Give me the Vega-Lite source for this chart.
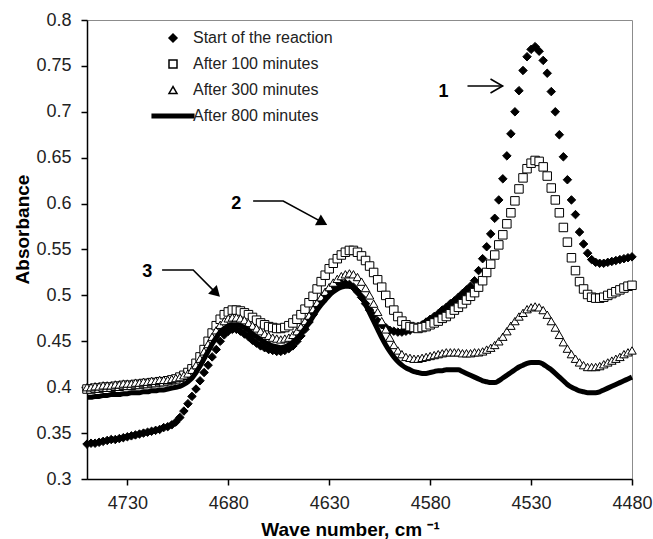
{
"$schema": "https://vega.github.io/schema/vega-lite/v6.json",
"width": 545, "height": 459,
"autosize": {"type": "none"},
"padding": {"left": 87, "top": 20, "right": 21, "bottom": 60},
"background": "white",
"config": {"view": {"stroke": "#8c8c8c", "strokeWidth": 1}, "font": "Liberation Sans"},
"datasets": {
"spec": [
{"x":4750,"a":0.338,"b":0.398,"c":0.400,"d":0.389},
{"x":4748,"a":0.339,"b":0.398,"c":0.400,"d":0.389},
{"x":4746,"a":0.339,"b":0.399,"c":0.401,"d":0.390},
{"x":4744,"a":0.340,"b":0.399,"c":0.401,"d":0.390},
{"x":4742,"a":0.341,"b":0.400,"c":0.402,"d":0.391},
{"x":4740,"a":0.342,"b":0.400,"c":0.402,"d":0.391},
{"x":4738,"a":0.343,"b":0.400,"c":0.402,"d":0.392},
{"x":4736,"a":0.343,"b":0.401,"c":0.403,"d":0.392},
{"x":4734,"a":0.344,"b":0.401,"c":0.403,"d":0.392},
{"x":4732,"a":0.345,"b":0.402,"c":0.404,"d":0.393},
{"x":4730,"a":0.346,"b":0.402,"c":0.404,"d":0.393},
{"x":4728,"a":0.347,"b":0.402,"c":0.404,"d":0.394},
{"x":4726,"a":0.348,"b":0.403,"c":0.405,"d":0.394},
{"x":4724,"a":0.349,"b":0.403,"c":0.405,"d":0.394},
{"x":4722,"a":0.350,"b":0.404,"c":0.406,"d":0.395},
{"x":4720,"a":0.351,"b":0.404,"c":0.406,"d":0.395},
{"x":4718,"a":0.352,"b":0.405,"c":0.407,"d":0.396},
{"x":4716,"a":0.353,"b":0.405,"c":0.407,"d":0.396},
{"x":4714,"a":0.354,"b":0.406,"c":0.408,"d":0.397},
{"x":4712,"a":0.356,"b":0.406,"c":0.408,"d":0.397},
{"x":4710,"a":0.357,"b":0.407,"c":0.408,"d":0.398},
{"x":4708,"a":0.359,"b":0.408,"c":0.409,"d":0.399},
{"x":4706,"a":0.362,"b":0.409,"c":0.410,"d":0.400},
{"x":4704,"a":0.367,"b":0.411,"c":0.411,"d":0.401},
{"x":4702,"a":0.374,"b":0.413,"c":0.413,"d":0.403},
{"x":4700,"a":0.382,"b":0.416,"c":0.415,"d":0.406},
{"x":4698,"a":0.390,"b":0.420,"c":0.419,"d":0.410},
{"x":4696,"a":0.398,"b":0.426,"c":0.424,"d":0.416},
{"x":4694,"a":0.407,"b":0.433,"c":0.431,"d":0.423},
{"x":4692,"a":0.416,"b":0.441,"c":0.439,"d":0.431},
{"x":4690,"a":0.424,"b":0.450,"c":0.447,"d":0.439},
{"x":4688,"a":0.433,"b":0.459,"c":0.455,"d":0.447},
{"x":4686,"a":0.441,"b":0.467,"c":0.462,"d":0.454},
{"x":4684,"a":0.450,"b":0.474,"c":0.468,"d":0.460},
{"x":4682,"a":0.457,"b":0.479,"c":0.472,"d":0.464},
{"x":4680,"a":0.461,"b":0.482,"c":0.475,"d":0.467},
{"x":4678,"a":0.463,"b":0.484,"c":0.476,"d":0.468},
{"x":4676,"a":0.463,"b":0.484,"c":0.476,"d":0.468},
{"x":4674,"a":0.461,"b":0.483,"c":0.475,"d":0.467},
{"x":4672,"a":0.458,"b":0.481,"c":0.473,"d":0.465},
{"x":4670,"a":0.455,"b":0.479,"c":0.470,"d":0.462},
{"x":4668,"a":0.451,"b":0.476,"c":0.467,"d":0.458},
{"x":4666,"a":0.448,"b":0.473,"c":0.464,"d":0.455},
{"x":4664,"a":0.445,"b":0.470,"c":0.461,"d":0.452},
{"x":4662,"a":0.443,"b":0.468,"c":0.458,"d":0.449},
{"x":4660,"a":0.441,"b":0.466,"c":0.456,"d":0.447},
{"x":4658,"a":0.440,"b":0.465,"c":0.454,"d":0.445},
{"x":4656,"a":0.439,"b":0.464,"c":0.453,"d":0.444},
{"x":4654,"a":0.439,"b":0.464,"c":0.452,"d":0.443},
{"x":4652,"a":0.440,"b":0.465,"c":0.453,"d":0.444},
{"x":4650,"a":0.442,"b":0.467,"c":0.454,"d":0.446},
{"x":4648,"a":0.445,"b":0.470,"c":0.457,"d":0.449},
{"x":4646,"a":0.450,"b":0.474,"c":0.461,"d":0.453},
{"x":4644,"a":0.456,"b":0.479,"c":0.466,"d":0.458},
{"x":4642,"a":0.463,"b":0.485,"c":0.472,"d":0.464},
{"x":4640,"a":0.471,"b":0.492,"c":0.478,"d":0.470},
{"x":4638,"a":0.479,"b":0.499,"c":0.485,"d":0.477},
{"x":4636,"a":0.487,"b":0.507,"c":0.492,"d":0.484},
{"x":4634,"a":0.494,"b":0.515,"c":0.498,"d":0.490},
{"x":4632,"a":0.500,"b":0.522,"c":0.504,"d":0.495},
{"x":4630,"a":0.505,"b":0.529,"c":0.509,"d":0.500},
{"x":4628,"a":0.509,"b":0.535,"c":0.514,"d":0.504},
{"x":4626,"a":0.511,"b":0.540,"c":0.518,"d":0.507},
{"x":4624,"a":0.513,"b":0.544,"c":0.521,"d":0.509},
{"x":4622,"a":0.513,"b":0.547,"c":0.523,"d":0.510},
{"x":4620,"a":0.512,"b":0.549,"c":0.524,"d":0.510},
{"x":4618,"a":0.509,"b":0.549,"c":0.523,"d":0.508},
{"x":4616,"a":0.504,"b":0.547,"c":0.520,"d":0.504},
{"x":4614,"a":0.498,"b":0.543,"c":0.515,"d":0.498},
{"x":4612,"a":0.491,"b":0.538,"c":0.508,"d":0.490},
{"x":4610,"a":0.484,"b":0.532,"c":0.500,"d":0.481},
{"x":4608,"a":0.478,"b":0.525,"c":0.491,"d":0.472},
{"x":4606,"a":0.472,"b":0.517,"c":0.482,"d":0.463},
{"x":4604,"a":0.468,"b":0.509,"c":0.472,"d":0.454},
{"x":4602,"a":0.465,"b":0.500,"c":0.463,"d":0.446},
{"x":4600,"a":0.462,"b":0.492,"c":0.454,"d":0.439},
{"x":4598,"a":0.461,"b":0.484,"c":0.446,"d":0.433},
{"x":4596,"a":0.460,"b":0.477,"c":0.440,"d":0.428},
{"x":4594,"a":0.460,"b":0.472,"c":0.436,"d":0.424},
{"x":4592,"a":0.461,"b":0.468,"c":0.433,"d":0.421},
{"x":4590,"a":0.462,"b":0.466,"c":0.432,"d":0.419},
{"x":4588,"a":0.464,"b":0.465,"c":0.431,"d":0.417},
{"x":4586,"a":0.466,"b":0.464,"c":0.431,"d":0.416},
{"x":4584,"a":0.468,"b":0.465,"c":0.432,"d":0.415},
{"x":4582,"a":0.471,"b":0.466,"c":0.433,"d":0.415},
{"x":4580,"a":0.474,"b":0.468,"c":0.434,"d":0.416},
{"x":4578,"a":0.477,"b":0.470,"c":0.435,"d":0.417},
{"x":4576,"a":0.480,"b":0.472,"c":0.436,"d":0.418},
{"x":4574,"a":0.484,"b":0.475,"c":0.437,"d":0.418},
{"x":4572,"a":0.487,"b":0.477,"c":0.438,"d":0.419},
{"x":4570,"a":0.491,"b":0.480,"c":0.438,"d":0.419},
{"x":4568,"a":0.494,"b":0.484,"c":0.438,"d":0.419},
{"x":4566,"a":0.498,"b":0.487,"c":0.438,"d":0.419},
{"x":4564,"a":0.502,"b":0.491,"c":0.437,"d":0.417},
{"x":4562,"a":0.506,"b":0.495,"c":0.437,"d":0.415},
{"x":4560,"a":0.510,"b":0.499,"c":0.437,"d":0.413},
{"x":4558,"a":0.516,"b":0.503,"c":0.438,"d":0.411},
{"x":4556,"a":0.527,"b":0.509,"c":0.438,"d":0.409},
{"x":4554,"a":0.540,"b":0.516,"c":0.439,"d":0.407},
{"x":4552,"a":0.553,"b":0.525,"c":0.441,"d":0.406},
{"x":4550,"a":0.567,"b":0.534,"c":0.443,"d":0.405},
{"x":4548,"a":0.584,"b":0.544,"c":0.446,"d":0.405},
{"x":4546,"a":0.604,"b":0.555,"c":0.450,"d":0.407},
{"x":4544,"a":0.627,"b":0.566,"c":0.455,"d":0.410},
{"x":4542,"a":0.652,"b":0.578,"c":0.461,"d":0.413},
{"x":4540,"a":0.676,"b":0.590,"c":0.467,"d":0.416},
{"x":4538,"a":0.700,"b":0.603,"c":0.472,"d":0.419},
{"x":4536,"a":0.723,"b":0.616,"c":0.477,"d":0.422},
{"x":4534,"a":0.745,"b":0.628,"c":0.481,"d":0.424},
{"x":4532,"a":0.760,"b":0.638,"c":0.485,"d":0.426},
{"x":4530,"a":0.768,"b":0.644,"c":0.487,"d":0.427},
{"x":4528,"a":0.771,"b":0.647,"c":0.488,"d":0.427},
{"x":4526,"a":0.766,"b":0.646,"c":0.487,"d":0.427},
{"x":4524,"a":0.756,"b":0.640,"c":0.484,"d":0.425},
{"x":4522,"a":0.742,"b":0.630,"c":0.479,"d":0.422},
{"x":4520,"a":0.722,"b":0.617,"c":0.472,"d":0.419},
{"x":4518,"a":0.700,"b":0.604,"c":0.465,"d":0.415},
{"x":4516,"a":0.675,"b":0.590,"c":0.457,"d":0.411},
{"x":4514,"a":0.651,"b":0.574,"c":0.449,"d":0.407},
{"x":4512,"a":0.626,"b":0.558,"c":0.442,"d":0.403},
{"x":4510,"a":0.604,"b":0.541,"c":0.436,"d":0.400},
{"x":4508,"a":0.588,"b":0.527,"c":0.431,"d":0.398},
{"x":4506,"a":0.569,"b":0.515,"c":0.427,"d":0.396},
{"x":4504,"a":0.556,"b":0.507,"c":0.424,"d":0.395},
{"x":4502,"a":0.546,"b":0.501,"c":0.422,"d":0.394},
{"x":4500,"a":0.539,"b":0.498,"c":0.422,"d":0.394},
{"x":4498,"a":0.536,"b":0.497,"c":0.422,"d":0.394},
{"x":4496,"a":0.535,"b":0.497,"c":0.423,"d":0.395},
{"x":4494,"a":0.535,"b":0.498,"c":0.425,"d":0.397},
{"x":4492,"a":0.536,"b":0.500,"c":0.427,"d":0.399},
{"x":4490,"a":0.537,"b":0.502,"c":0.429,"d":0.401},
{"x":4488,"a":0.538,"b":0.504,"c":0.431,"d":0.403},
{"x":4486,"a":0.539,"b":0.506,"c":0.433,"d":0.405},
{"x":4484,"a":0.540,"b":0.508,"c":0.436,"d":0.407},
{"x":4482,"a":0.541,"b":0.510,"c":0.438,"d":0.409},
{"x":4480,"a":0.542,"b":0.511,"c":0.440,"d":0.411}
],
"arrows": [
{"id":"1","o":1,"x":4561.5,"y":0.7281},{"id":"1","o":2,"x":4544.1,"y":0.7281},
{"id":"1h","o":1,"x":4550.1,"y":0.7357},{"id":"1h","o":2,"x":4544.1,"y":0.7281},{"id":"1h","o":3,"x":4550.1,"y":0.7205},
{"id":"2","o":1,"x":4667.7,"y":0.6028},{"id":"2","o":2,"x":4652.8,"y":0.6028},{"id":"2","o":3,"x":4633.3,"y":0.5795},
{"id":"3","o":1,"x":4712.8,"y":0.5277},{"id":"3","o":2,"x":4697.4,"y":0.5277},{"id":"3","o":3,"x":4686.0,"y":0.5025}
],
"heads": [
{"x":4633.3,"y":0.5795,"a":28.6},
{"x":4686.0,"y":0.5025,"a":45}
],
"labels": [
{"t":"1","x":4573.4,"y":0.7216},
{"t":"2","x":4676.1,"y":0.5996},
{"t":"3","x":4720.2,"y":0.5255}
]
},
"layer": [
{
"data": {"name": "spec"},
"transform": [{"fold": ["a", "b", "c"], "as": ["s", "y"]}],
"mark": {"type": "point", "filled": false, "color": "black", "strokeWidth": 1, "opacity": 1, "size": 72},
"encoding": {
"x": {"field": "x", "type": "quantitative",
 "scale": {"domain": [4480, 4750], "reverse": true, "nice": false, "zero": false},
 "axis": {"values": [4730, 4680, 4630, 4580, 4530, 4480], "format": "d", "grid": false,
  "title": "Wave number, cm ⁻¹", "titleFontSize": 19, "titleFontWeight": "bold", "titleColor": "black",
  "titleX": 263, "titleY": 56, "titleBaseline": "alphabetic", "titleAlign": "center",
  "labelFontSize": 18, "labelColor": "#222222", "labelPadding": 9, "labelFlush": false, "labelOverlap": false,
  "tickSize": 6, "tickColor": "black", "tickWidth": 1.5, "domainColor": "black", "domainWidth": 1.5}},
"y": {"field": "y", "type": "quantitative",
 "scale": {"domain": [0.3, 0.8], "nice": false, "zero": false},
 "axis": {"values": [0.3, 0.35, 0.4, 0.45, 0.5, 0.55, 0.6, 0.65, 0.7, 0.75, 0.8], "format": "~g", "grid": false,
  "title": "Absorbance", "titleFontSize": 19, "titleFontWeight": "bold", "titleColor": "black",
  "titleX": -59, "titleY": 209, "titleAngle": 270, "titleBaseline": "alphabetic", "titleAlign": "center",
  "labelFontSize": 18, "labelColor": "#222222", "labelPadding": 10, "labelOverlap": false,
  "tickSize": 6, "tickColor": "black", "tickWidth": 1.5, "domainColor": "black", "domainWidth": 1.5}},
"shape": {"field": "s", "type": "nominal",
 "scale": {"domain": ["a", "b", "c", "d"], "range": ["diamond", "square", "triangle-up", "M-5.2,-0.42H5.2V0.42H-5.2Z"]},
 "legend": {"title": null, "orient": "none", "legendX": 78, "legendY": 10, "padding": 0,
  "labelExpr": "datum.label == 'a' ? 'Start of the reaction' : datum.label == 'b' ? 'After 100 minutes' : datum.label == 'c' ? 'After 300 minutes' : 'After 800 minutes'",
  "labelFontSize": 16, "labelColor": "#222222", "labelOffset": 12, "rowPadding": 10, "symbolSize": 64}},
"fill": {"field": "s", "type": "nominal",
 "scale": {"domain": ["a", "b", "c", "d"], "range": ["black", "white", "white", "black"]},
 "legend": {"title": null, "orient": "none", "legendX": 78, "legendY": 10, "padding": 0,
  "labelExpr": "datum.label == 'a' ? 'Start of the reaction' : datum.label == 'b' ? 'After 100 minutes' : datum.label == 'c' ? 'After 300 minutes' : 'After 800 minutes'",
  "labelFontSize": 16, "labelColor": "#222222", "labelOffset": 12, "rowPadding": 10, "symbolSize": 64}},
"order": {"field": "s", "type": "nominal", "sort": "ascending"}
}
},
{
"data": {"name": "spec"},
"transform": [{"fold": ["d"], "as": ["s", "y"]}],
"mark": {"type": "line", "color": "black", "strokeWidth": 5, "interpolate": "monotone"},
"encoding": {
"x": {"field": "x", "type": "quantitative"},
"y": {"field": "y", "type": "quantitative"}
}
},
{
"data": {"name": "arrows"},
"mark": {"type": "line", "color": "black", "strokeWidth": 1.6},
"encoding": {
"x": {"field": "x", "type": "quantitative"},
"y": {"field": "y", "type": "quantitative"},
"detail": {"field": "id", "type": "nominal"},
"order": {"field": "o", "type": "quantitative"}
}
},
{
"data": {"name": "heads"},
"mark": {"type": "point", "shape": "triangle-right", "filled": true, "color": "black", "size": 150, "opacity": 1},
"encoding": {
"x": {"field": "x", "type": "quantitative"},
"y": {"field": "y", "type": "quantitative"},
"angle": {"field": "a", "type": "quantitative", "scale": null}
}
},
{
"data": {"name": "labels"},
"mark": {"type": "text", "fontSize": 18, "fontWeight": "bold", "color": "black"},
"encoding": {
"x": {"field": "x", "type": "quantitative"},
"y": {"field": "y", "type": "quantitative"},
"text": {"field": "t", "type": "nominal"}
}
}
]
}
